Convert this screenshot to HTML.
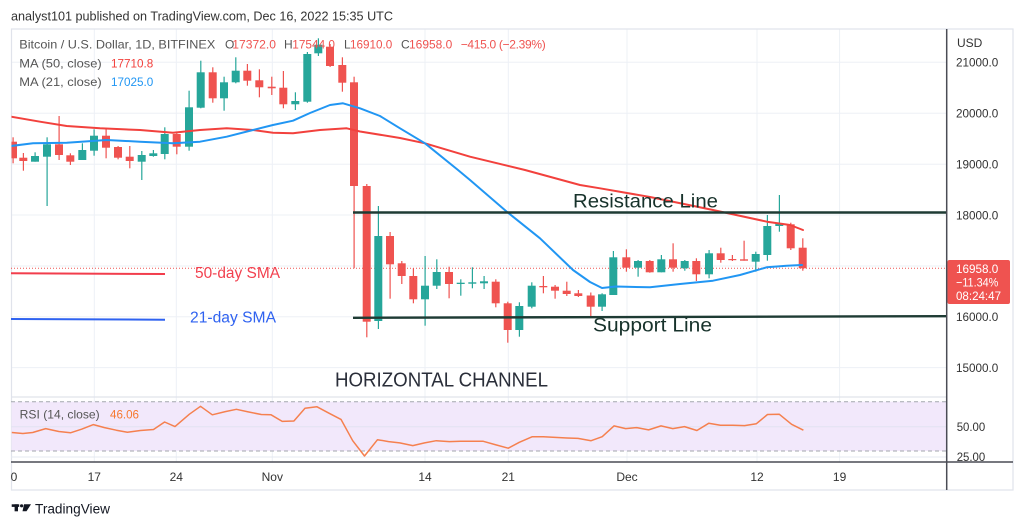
<!DOCTYPE html>
<html><head><meta charset="utf-8"><style>
html,body{margin:0;padding:0;background:#fff;}
svg{display:block;font-family:"Liberation Sans",Arial,sans-serif;}
</style></head><body>
<svg width="1024" height="528" viewBox="0 0 1024 528" xmlns="http://www.w3.org/2000/svg">
<defs><clipPath id="pc"><rect x="11.5" y="29" width="935" height="368"/></clipPath></defs>
<rect width="1024" height="528" fill="#fff"/>
<text x="11" y="20.5" font-size="13" fill="#333" textLength="382" lengthAdjust="spacingAndGlyphs">analyst101 published on TradingView.com, Dec 16, 2022 15:35 UTC</text>
<!-- grid -->
<g stroke="#edf0f6" stroke-width="1">
<line x1="11" y1="62.3" x2="946" y2="62.3"/><line x1="11" y1="113.3" x2="946" y2="113.3"/><line x1="11" y1="164.3" x2="946" y2="164.3"/><line x1="11" y1="215" x2="946" y2="215"/><line x1="11" y1="266" x2="946" y2="266"/><line x1="11" y1="316.7" x2="946" y2="316.7"/><line x1="11" y1="367.6" x2="946" y2="367.6"/>
<line x1="94.3" y1="29" x2="94.3" y2="462"/><line x1="176.3" y1="29" x2="176.3" y2="462"/><line x1="272.3" y1="29" x2="272.3" y2="462"/><line x1="425" y1="29" x2="425" y2="462"/><line x1="508.3" y1="29" x2="508.3" y2="462"/><line x1="627" y1="29" x2="627" y2="462"/><line x1="757" y1="29" x2="757" y2="462"/><line x1="839.6" y1="29" x2="839.6" y2="462"/>
</g>
<!-- frame -->
<rect x="11.5" y="29" width="1001.5" height="461" fill="none" stroke="#e0e3eb" stroke-width="1.2"/>
<line x1="11" y1="397" x2="946" y2="397" stroke="#e0e3eb" stroke-width="1.2"/>
<!-- RSI pane -->
<rect x="11.5" y="401.7" width="935" height="49.3" fill="#f2e8fb"/>
<line x1="11" y1="426.7" x2="946" y2="426.7" stroke="#e2e2f2" stroke-width="1"/>
<line x1="11" y1="457" x2="946" y2="457" stroke="#e4e8f0" stroke-width="1"/>
<line x1="11" y1="401.7" x2="946" y2="401.7" stroke="#a3a6ae" stroke-width="1" stroke-dasharray="4,3"/>
<line x1="11" y1="451" x2="946" y2="451" stroke="#a3a6ae" stroke-width="1" stroke-dasharray="4,3"/>
<polyline fill="none" stroke="#f5804f" stroke-width="1.5" stroke-linejoin="round" points="11.8,432.5 22.9,433.5 32.7,432.5 45.7,428.6 58.8,431.5 70.5,432.8 81.6,429.2 93.4,424.6 104.5,427.6 116.3,430.2 127.4,432.2 140.4,430.5 153.5,429.5 164.6,422 175,426.6 189.4,414.2 200.5,406.3 212.3,414.8 225.3,411.6 236.4,409.3 248.2,411.9 261.3,414.5 271.1,414.8 282.2,421.4 293.9,421 305,408.3 316.8,406.7 328.5,412.9 341,419.4 352.7,440.7 364.5,456 377.5,439.7 388.6,441.6 399.7,442.9 412.8,445.6 424.6,442.9 436.3,440.7 449.4,441.6 460.5,441.3 470.3,441.3 483.3,441.3 495.1,444.6 508.2,448.2 519.3,442.3 532.3,436.7 543.4,436.7 555.2,437.4 567,438 578,438.4 591.1,440.7 602.2,436.7 614,425.9 625.7,428.6 636.8,427.6 648.6,429.9 661,425.9 672.8,428.6 684.5,426.6 696.9,430.5 708.7,423.3 720.4,425.3 732.8,425.3 744.6,425.6 756.4,423.7 767.5,414.5 779.2,414.2 791.6,424.3 803.4,430.2"/>
<text x="19.7" y="418.5" font-size="12" fill="#555" textLength="80" lengthAdjust="spacingAndGlyphs">RSI (14, close)</text>
<text x="110" y="418.5" font-size="12" fill="#f7782f" textLength="29" lengthAdjust="spacingAndGlyphs">46.06</text>
<!-- axes lines -->
<line x1="11" y1="462" x2="1013" y2="462" stroke="#4a4c55" stroke-width="1.5"/>
<line x1="946.7" y1="29" x2="946.7" y2="490" stroke="#4a4c55" stroke-width="1.5"/>
<!-- current price dotted -->
<line x1="11" y1="268.3" x2="946" y2="268.3" stroke="#ef5350" stroke-width="1" stroke-dasharray="1,2"/>
<!-- candles -->
<g clip-path="url(#pc)" id="candles"></g>
<!-- MAs -->
<g clip-path="url(#pc)" fill="none" stroke-width="2" stroke-linejoin="round" stroke-linecap="round">
<polyline stroke="#f2413d" points="11,116.7 40,121.7 66.7,126 100,128.3 140,130 173,132.7 200,130 226.7,128.3 253,130 273,132.7 293,133.3 320,130 346.7,128.3 360,131.5 400,138 425,143.3 470,156.7 525,170 580,185 600,188.3 650,197 713,210 767,221.7 790,225 803,230"/>
<polyline stroke="#2196f3" points="11,146 33,143.3 66.7,142.7 106.7,140 140,141.7 173,143.3 200,141.7 226.7,136.7 253,130 273,125 293,120.7 310,113 330,105 343,103.3 360,108.3 380,116 400,128.3 425,143.3 458,170 470,180 508,212.7 540,238.3 573,270 590,282 602,288 616,286.5 650,287.3 680,284 713,280.7 740,275 766.7,267.3 786.7,265.7 802,265"/>
</g>
<!-- channel lines -->
<line x1="353" y1="212.5" x2="946" y2="212.5" stroke="#1e3b34" stroke-width="2.4"/>
<line x1="353" y1="317.8" x2="946" y2="316.2" stroke="#1e3b34" stroke-width="2.4"/>
<text x="573" y="207.7" font-size="19.5" fill="#17322b" textLength="145" lengthAdjust="spacingAndGlyphs">Resistance Line</text>
<text x="593" y="331.7" font-size="19.5" fill="#17322b" textLength="119" lengthAdjust="spacingAndGlyphs">Support Line</text>
<text x="335" y="386.7" font-size="20.5" fill="#2a2e39" textLength="213" lengthAdjust="spacingAndGlyphs">HORIZONTAL CHANNEL</text>
<!-- SMA legend lines -->
<line x1="11" y1="273.3" x2="165" y2="274" stroke="#f23d4c" stroke-width="2"/>
<line x1="11" y1="319" x2="165" y2="319.7" stroke="#2f62f0" stroke-width="2"/>
<text x="195" y="277.8" font-size="15.5" fill="#f2414f" textLength="85" lengthAdjust="spacingAndGlyphs">50-day SMA</text>
<text x="190" y="322.5" font-size="15.5" fill="#2f62f0" textLength="86" lengthAdjust="spacingAndGlyphs">21-day SMA</text>
<!-- legend -->
<g font-size="12">
<text x="19.3" y="48.5" fill="#555" textLength="196" lengthAdjust="spacingAndGlyphs">Bitcoin / U.S. Dollar, 1D, BITFINEX</text>
<text x="225" y="48.5" fill="#555">O</text><text x="232.3" y="48.5" fill="#ef5350" textLength="43.7" lengthAdjust="spacingAndGlyphs">17372.0</text>
<text x="284" y="48.5" fill="#555">H</text><text x="292.3" y="48.5" fill="#ef5350" textLength="42.7" lengthAdjust="spacingAndGlyphs">17544.0</text>
<text x="344" y="48.5" fill="#555">L</text><text x="350" y="48.5" fill="#ef5350" textLength="42.3" lengthAdjust="spacingAndGlyphs">16910.0</text>
<text x="401" y="48.5" fill="#555">C</text><text x="409" y="48.5" fill="#ef5350" textLength="43.3" lengthAdjust="spacingAndGlyphs">16958.0</text>
<text x="460.7" y="48.5" fill="#ef5350" textLength="85" lengthAdjust="spacing">−415.0 (−2.39%)</text>
<text x="19.3" y="67.5" fill="#555" textLength="82.4" lengthAdjust="spacingAndGlyphs">MA (50, close)</text>
<text x="111" y="67.5" fill="#f2413d" textLength="42.3" lengthAdjust="spacingAndGlyphs">17710.8</text>
<text x="19.3" y="86" fill="#555" textLength="82.4" lengthAdjust="spacingAndGlyphs">MA (21, close)</text>
<text x="111" y="86" fill="#2196f3" textLength="42.3" lengthAdjust="spacingAndGlyphs">17025.0</text>
</g>
<!-- right axis -->
<g font-size="12" fill="#333">
<text x="957" y="47">USD</text>
<text x="956" y="66.6" textLength="42.3" lengthAdjust="spacingAndGlyphs">21000.0</text>
<text x="956" y="117.6" textLength="42.3" lengthAdjust="spacingAndGlyphs">20000.0</text>
<text x="956" y="168.6" textLength="42.3" lengthAdjust="spacingAndGlyphs">19000.0</text>
<text x="956" y="219.3" textLength="42.3" lengthAdjust="spacingAndGlyphs">18000.0</text>
<text x="956" y="321" textLength="42.3" lengthAdjust="spacingAndGlyphs">16000.0</text>
<text x="956" y="371.9" textLength="42.3" lengthAdjust="spacingAndGlyphs">15000.0</text>
<text x="956.7" y="431" textLength="28.5" lengthAdjust="spacingAndGlyphs">50.00</text>
<text x="956.7" y="461" textLength="28.5" lengthAdjust="spacingAndGlyphs">25.00</text>
</g>
<rect x="947.5" y="260" width="62.5" height="44" rx="2" fill="#ef5350"/>
<g font-size="12" fill="#fff">
<text x="956" y="273" textLength="42.3" lengthAdjust="spacingAndGlyphs">16958.0</text>
<text x="956" y="286.7" textLength="42.3" lengthAdjust="spacingAndGlyphs">−11.34%</text>
<text x="956" y="300" textLength="45" lengthAdjust="spacingAndGlyphs">08:24:47</text>
</g>
<!-- time axis -->
<g font-size="12" fill="#333" text-anchor="middle">
<text x="14" y="481">0</text>
<text x="94.3" y="481">17</text>
<text x="176.3" y="481">24</text>
<text x="272.3" y="481">Nov</text>
<text x="425" y="481">14</text>
<text x="508.3" y="481">21</text>
<text x="627" y="481">Dec</text>
<text x="757" y="481">12</text>
<text x="839.6" y="481">19</text>
</g>
<!-- logo -->
<g fill="#131722">
<rect x="11.7" y="504.3" width="7.5" height="2.6"/>
<rect x="14.6" y="504.3" width="3.4" height="7"/>
<circle cx="21.6" cy="505.8" r="1.6"/>
<polygon points="24,504.3 31,504.3 26.5,511.3 22.5,511.3"/>
</g>
<text x="35" y="513.3" font-size="13.5" fill="#131722" textLength="75" lengthAdjust="spacingAndGlyphs">TradingView</text>
<script>
(function(){
var d=[
[13,'R',141.7,158.3,137.3,163.3],[23.3,'R',157.7,161,153,170.7],[35,'G',156,161.7,152.3,161.7],[47,'G',144.3,156.7,137.3,206],
[59,'R',144.3,155,116,160],[70.3,'R',155.3,161.7,153.3,165],[82.3,'G',150,160,143.3,160],[94,'G',135.7,150.7,129.3,155.7],
[106,'R',135.7,147.7,128.3,158.3],[118,'R',147,157.7,146,159.3],[129.7,'R',156.7,161,146,168.3],[141.7,'G',155,161.7,151,180],
[153.3,'G',153.3,156,150,156.7],[164.7,'G',134,154,127.3,159.3],[176.7,'R',134,146.7,133.3,154.3],[189,'G',107.3,146.7,90.7,150.7],
[200.7,'G',72.3,107.7,60.7,108.3],[212.7,'R',72.3,98.3,67.3,102.7],[224,'G',82.3,98.3,76.7,110.7],[235.7,'G',70.7,82.3,57.3,83.3],
[247.3,'R',70.7,80.7,64,85.7],[259.3,'R',80.3,87.3,69.3,97.3],[271.7,'R',86.7,88.3,76.7,95],[283.3,'R',87.7,104.3,71,108.3],
[295.3,'G',101,104.3,92.3,110],[307.3,'G',54,101.7,52,102.7],[318.3,'G',44.7,53.3,38.3,56],[330,'R',46.7,66,44,67],
[342.3,'R',65,82.7,57.3,91.7],[354,'R',82.3,186,76.7,268.3],[366.7,'R',186,321.7,184,337.3],[378.3,'G',236,321,206,329],
[390,'R',236,264.3,232,298.7],[401.7,'R',263.3,276,261,284],[413.3,'R',276,299.3,268.3,303.3],[425,'G',285.7,299.3,256,325.7],
[436.7,'G',272,285.7,259.3,289],[449,'R',272,284,266.7,298.3],[460.7,'G',282.7,284,279.3,295.7],[472.3,'G',282.3,283.7,267.3,288.3],
[484,'G',281.3,283.3,276,289],[495.7,'R',281.7,303.3,279.3,307.3],[507.7,'R',303.3,330,301.7,342.7],[519.3,'G',306,330,302.3,336.7],
[531.7,'G',285.7,306.7,282.3,308.3],[543.3,'R',286,287.3,276,293.3],[555,'R',286.7,290.7,285,298.7],[566.7,'R',290.7,294,281.7,296],
[578.3,'R',293.3,296,290,297],[590.7,'R',295.5,306.7,292.5,316.3],[602,'G',294.3,306.7,293.3,311],[613.3,'G',257.3,295,251,295],
[626.3,'R',257.3,267.7,249.3,271.7],[638,'G',261,267.7,260,276.7],[649.7,'R',261,272.3,260,272.7],[661.3,'G',259.3,272.3,255,272.3],
[673,'R',259.3,267.7,243.3,271.7],[684.7,'G',261,268.3,260,270.7],[696.3,'R',261,274.3,258.3,281],[709,'G',253.3,274.3,250,278.3],
[720.7,'R',253.3,260,247.7,262.7],[732.3,'R',259,260,255,261],[744,'R',259.3,260.7,240.7,260.7],[755.7,'G',254,261.7,251.7,271.7],
[767.3,'G',226,255,215,260.7],[779.3,'G',223.3,226,195,231.7],[790.7,'R',224.3,248.3,222.7,250],[802.7,'R',247.7,268.3,238.3,270.7]];
var ns='http://www.w3.org/2000/svg',g=document.getElementById('candles');
d.forEach(function(c){
var col=c[1]=='G'?'#26a69a':'#ef5350';
var w=document.createElementNS(ns,'rect');
w.setAttribute('x',c[0]-0.5);w.setAttribute('y',c[4]);w.setAttribute('width',1.2);w.setAttribute('height',c[5]-c[4]);w.setAttribute('fill',col);g.appendChild(w);
var b=document.createElementNS(ns,'rect');
var h=Math.max(c[3]-c[2],1.2);
b.setAttribute('x',c[0]-4);b.setAttribute('y',c[2]);b.setAttribute('width',8);b.setAttribute('height',h);b.setAttribute('fill',col);g.appendChild(b);
});
})();
</script>
</svg>
</body></html>
